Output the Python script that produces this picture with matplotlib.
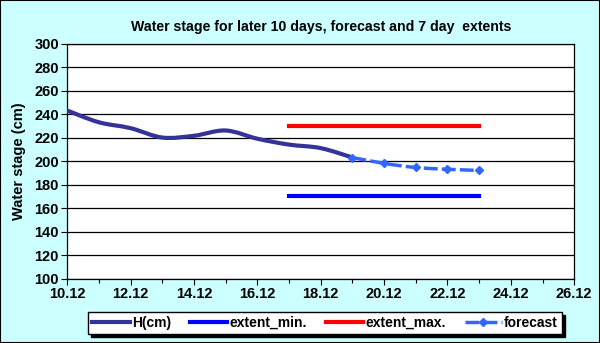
import matplotlib.pyplot as plt
from matplotlib.patches import Rectangle, PathPatch
from matplotlib.path import Path
from matplotlib.lines import Line2D

plt.rcParams['font.family'] = ['Liberation Sans', 'DejaVu Sans']

# December days and measured stage
h_days = [10, 11, 12, 13, 14, 15, 16, 17, 18, 19]
h_cm = [243, 233, 228, 220, 221.5, 226, 219, 214, 211, 203]

forecast_days = [19, 20, 21, 22, 23]
forecast_cm = [203, 198, 194.5, 193, 192]

extent_days = [17, 23]
extent_min = [170, 170]
extent_max = [230, 230]

tick_days = [10, 12, 14, 16, 18, 20, 22, 24, 26]
tick_labels = ['10.12', '12.12', '14.12', '16.12', '18.12', '20.12', '22.12', '24.12', '26.12']
y_ticks = [100, 120, 140, 160, 180, 200, 220, 240, 260, 280, 300]


def smooth_path(xs, ys):
    # Excel-like smoothed line: cubic bezier through the points
    pts = list(zip(xs, ys))
    verts = [pts[0]]
    codes = [Path.MOVETO]
    for i in range(len(pts) - 1):
        p0 = pts[max(i - 1, 0)]
        p1 = pts[i]
        p2 = pts[i + 1]
        p3 = pts[min(i + 2, len(pts) - 1)]
        c1 = (p1[0] + (p2[0] - p0[0]) / 6, p1[1] + (p2[1] - p0[1]) / 6)
        c2 = (p2[0] - (p3[0] - p1[0]) / 6, p2[1] - (p3[1] - p1[1]) / 6)
        verts += [c1, c2, p2]
        codes += [Path.CURVE4] * 3
    return Path(verts, codes)


fig = plt.figure(figsize=(6, 3.43), dpi=100, facecolor='#ccffff')
fig.patches.append(Rectangle((0, 0), 1, 1, transform=fig.transFigure,
                             fill=False, edgecolor='black', linewidth=1.5))

ax = fig.add_axes([0.112, 0.188, 0.845, 0.685])
ax.set_facecolor('white')

ax.add_patch(PathPatch(smooth_path(h_days, h_cm), fill=False, edgecolor='#333399',
                       linewidth=3, capstyle='round', zorder=3))
ax.plot(extent_days, extent_min, color='#0000ff', linewidth=3, zorder=3)
ax.plot(extent_days, extent_max, color='#ff0000', linewidth=3, zorder=3)
ax.add_patch(PathPatch(smooth_path(forecast_days, forecast_cm), fill=False,
                       edgecolor='#3366ff', linewidth=2.5, linestyle=(0, (4, 1.2)), zorder=4))
ax.plot(forecast_days, forecast_cm, color='#3366ff', linestyle='none',
        marker='D', markersize=4, zorder=4)

ax.set_xlim(10, 26)
ax.set_ylim(100, 300)
ax.set_xticks(tick_days)
ax.set_xticklabels(tick_labels, fontweight='bold', fontsize=10.5)
ax.set_xticks(range(10, 27), minor=True)
ax.set_yticks(y_ticks)
ax.set_yticklabels([str(v) for v in y_ticks], fontweight='bold', fontsize=10.5)
ax.tick_params(axis='both', direction='out', length=4, width=0.8, pad=2)
ax.tick_params(axis='x', which='minor', direction='out', length=3, width=0.8)
ax.grid(axis='y', color='black', linewidth=0.9)
ax.set_axisbelow(True)
for s in ax.spines.values():
    s.set_color('black')
    s.set_linewidth(0.9)

ax.set_ylabel('Water stage (cm)', fontweight='bold', fontsize=10.5, labelpad=6)
ax.set_title('Water stage for later 10 days, forecast and 7 day  extents',
             fontweight='bold', fontsize=10.2, pad=9)

handles = [
    Line2D([], [], color='#333399', linewidth=3),
    Line2D([], [], color='#0000ff', linewidth=3),
    Line2D([], [], color='#ff0000', linewidth=3),
    Line2D([], [], color='#3366ff', linewidth=2.5, linestyle=(0, (4, 1.2)), marker='D', markersize=4),
]
labels = ['H(cm)', 'extent_min.', 'extent_max.', 'forecast']
leg = fig.legend(handles, labels, loc='lower center', bbox_to_anchor=(0.542, 0.005), ncol=4,
                 frameon=True, fancybox=False, edgecolor='black', framealpha=1,
                 fontsize=10, handlelength=2.7, columnspacing=1.35, handletextpad=0.15,
                 borderpad=0.3, shadow={'color': 'black', 'alpha': 1})
for t in leg.get_texts():
    t.set_fontweight('bold')

fig.savefig('out.png', dpi=100, facecolor=fig.get_facecolor())
